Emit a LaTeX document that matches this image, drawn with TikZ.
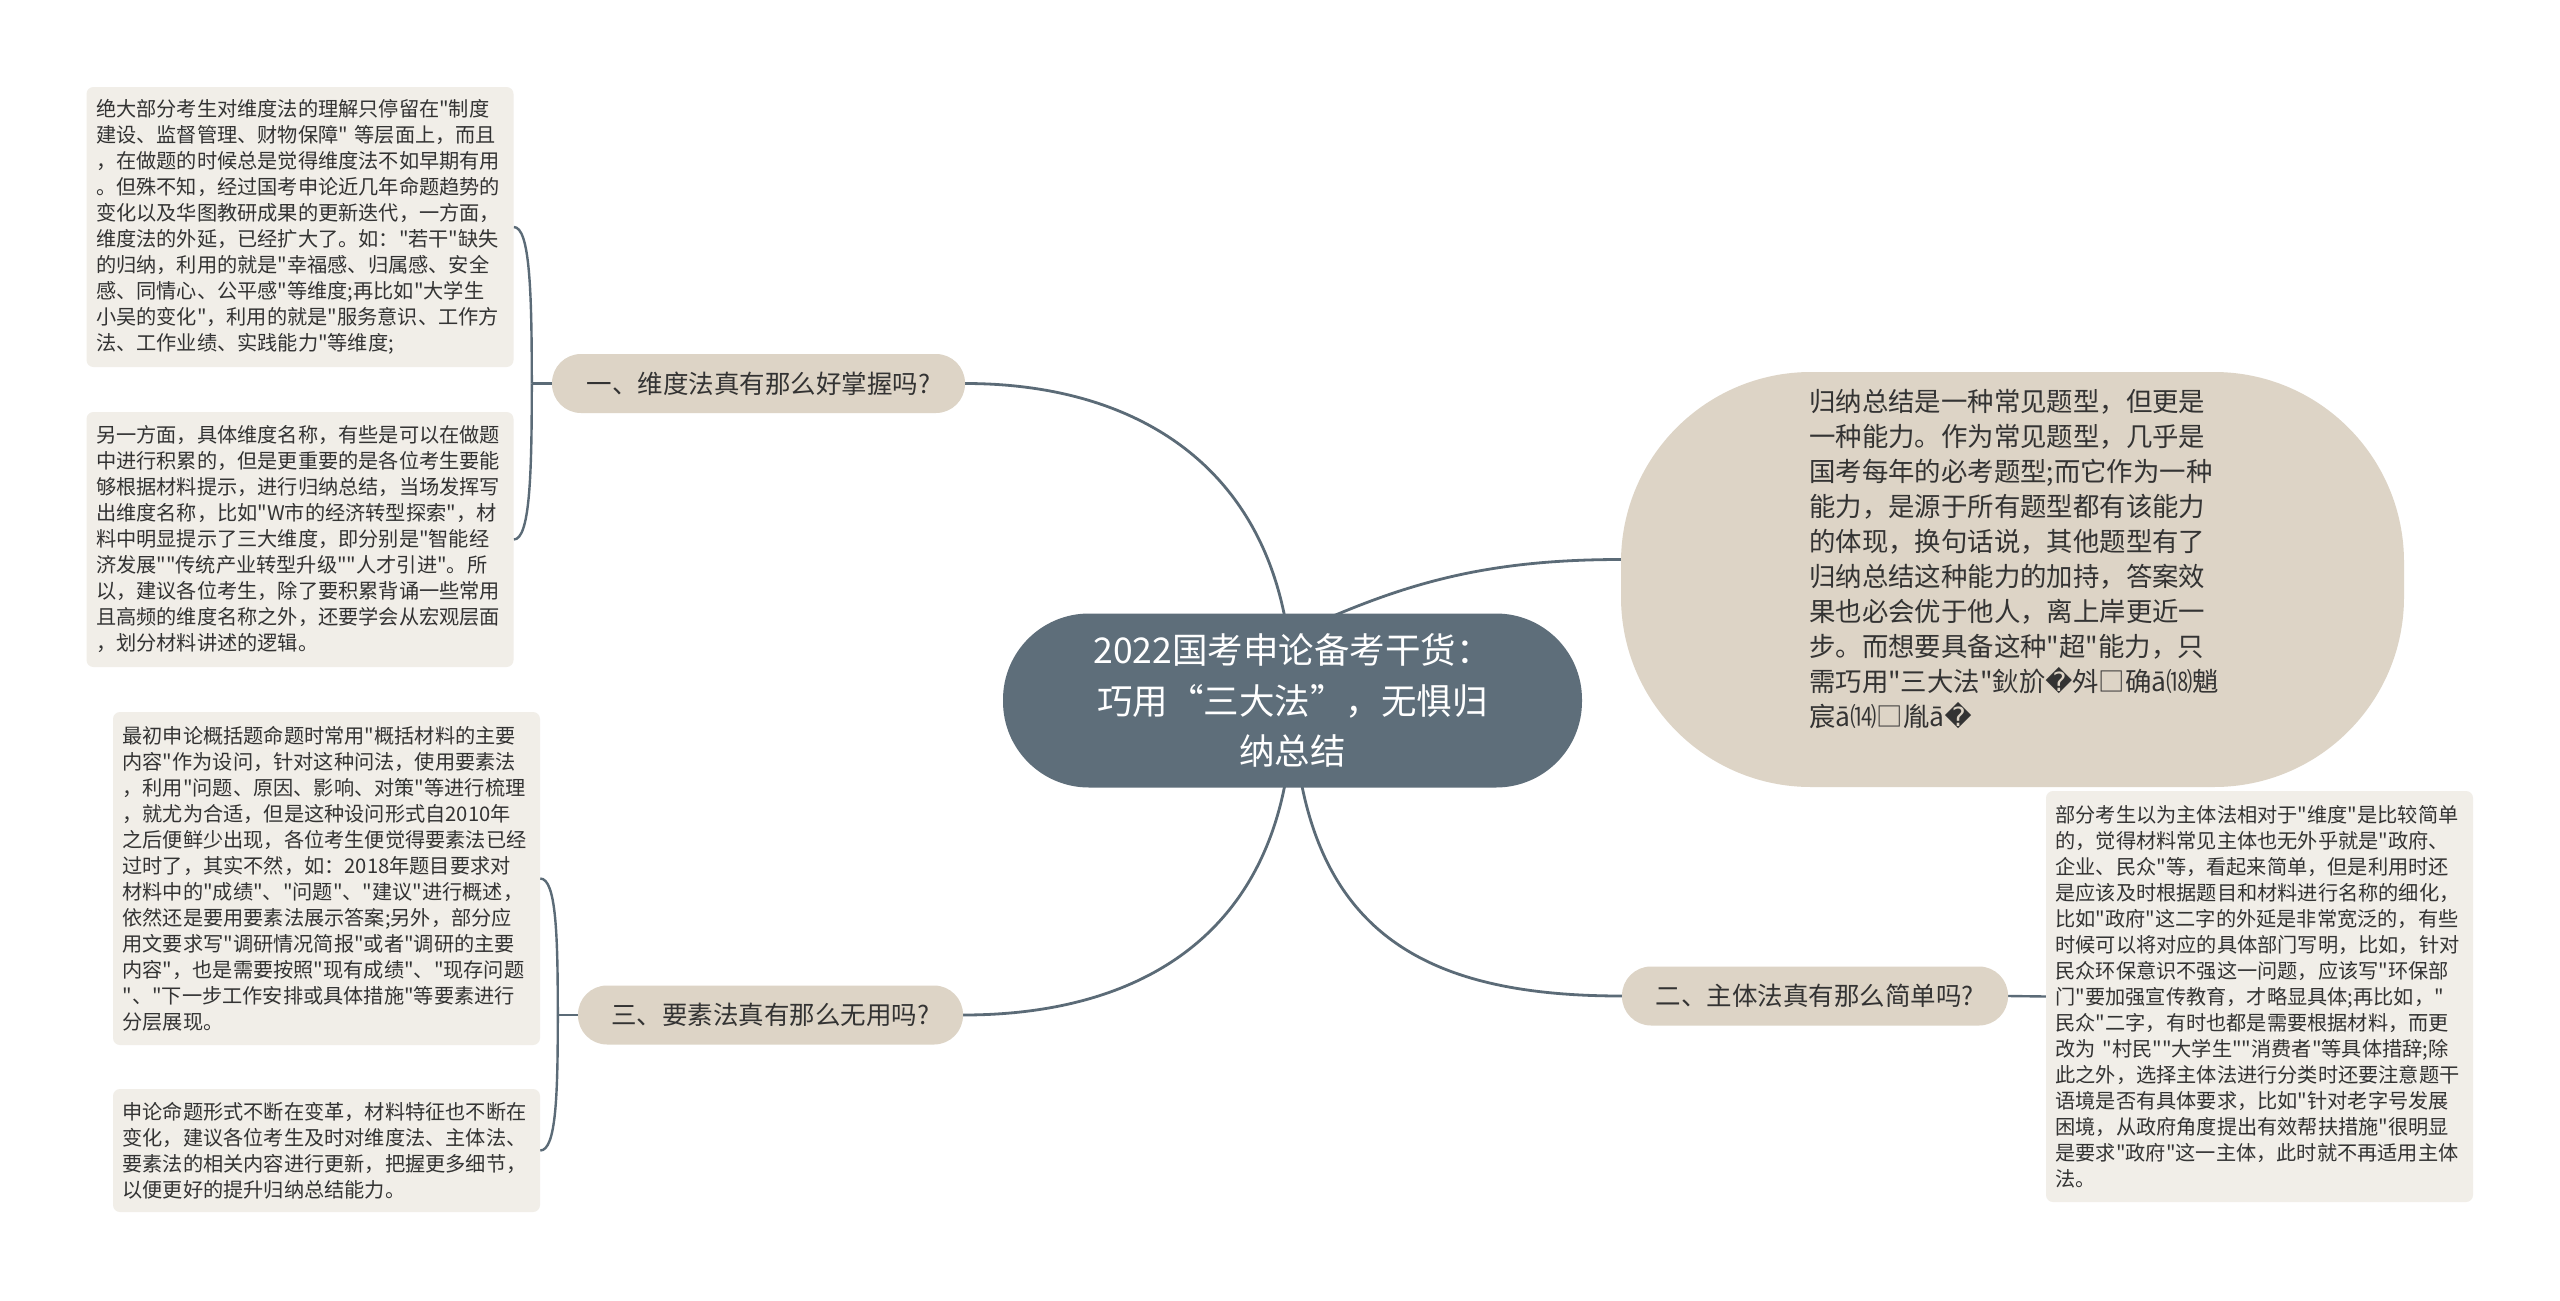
\documentclass[tikz,border=0pt]{standalone}
\usepackage{fontspec}
\setmainfont{Noto Sans CJK SC}[Ligatures=TeXOff]
\newfontfamily\dejavu{DejaVu Sans}[Ligatures=TeXOff]
\usetikzlibrary{backgrounds}
\definecolor{slate}{HTML}{5E6E7A}
\definecolor{linec}{HTML}{5B6B77}
\definecolor{beige}{HTML}{DDD4C6}
\definecolor{boxc}{HTML}{F1EEE8}
\definecolor{txt}{HTML}{333333}
\begin{document}
\begin{tikzpicture}[x=1pt,y=-1pt,
  rootnode/.style={fill=slate, rounded corners=86pt, minimum width=579pt, minimum height=174pt, text=white, align=center, font=\fontsize{35.5}{50.5}\selectfont, inner sep=0pt},
  branchnode/.style={fill=beige, rounded corners=29pt, minimum height=59pt, text=txt, font=\fontsize{25.5}{30}\selectfont, inner sep=0pt},
  textbox/.style={fill=boxc, rounded corners=7pt, text width=408pt, inner xsep=9.5pt, inner ysep=0pt, align=left, text=txt, font=\fontsize{20.2}{26}\selectfont},
  bubblenode/.style={fill=beige, rounded corners=190pt, minimum width=783pt, minimum height=415pt, inner sep=0pt},
  bubbletext/.style={text=txt, align=left, font=\fontsize{26.4}{35}\selectfont, inner sep=0pt, anchor=west},
  conn/.style={draw=linec, line width=2.8pt},
  brk/.style={draw=linec, line width=2.4pt},
]
\useasboundingbox (0,0) rectangle (2560,1301);

\node[rootnode] (root) at (1292.5,700.5) {2022国考申论备考干货：\\巧用“三大法”，无惧归\\纳总结};

\node[branchnode, minimum width=413pt] (b1) at (758.5,383.5) {一、维度法真有那么好掌握吗?};
\node[branchnode, minimum width=385pt] (b3) at (770.5,1015) {三、要素法真有那么无用吗?};
\node[branchnode, minimum width=386pt] (b2) at (1815,996) {二、主体法真有那么简单吗?};

\node[bubblenode] (bub) at (2012.5,579.5) {};
\node[bubbletext] (bubt) at (1809,559.5) {归纳总结是一种常见题型，但更是\\一种能力。作为常见题型，几乎是\\国考每年的必考题型;而它作为一种\\能力，是源于所有题型都有该能力\\的体现，换句话说，其他题型有了\\归纳总结这种能力的加持，答案效\\果也必会优于他人，离上岸更近一\\步。而想要具备这种"超"能力，只\\需巧用"三大法"鈥斺{\dejavu �}斘□确ā⒅魈\\宸ā⒁□胤ā{\dejavu �}};

\node[textbox, minimum height=280pt] (box1) at (300,227) {绝大部分考生对维度法的理解只停留在"制度\\建设、监督管理、财物保障" 等层面上，而且\\，在做题的时候总是觉得维度法不如早期有用\\。但殊不知，经过国考申论近几年命题趋势的\\变化以及华图教研成果的更新迭代，一方面，\\维度法的外延，已经扩大了。如："若干"缺失\\的归纳，利用的就是"幸福感、归属感、安全\\感、同情心、公平感"等维度;再比如"大学生\\小吴的变化"，利用的就是"服务意识、工作方\\法、工作业绩、实践能力"等维度;};

\node[textbox, minimum height=255pt] (box2) at (300,539.5) {另一方面，具体维度名称，有些是可以在做题\\中进行积累的，但是更重要的是各位考生要能\\够根据材料提示，进行归纳总结，当场发挥写\\出维度名称，比如"W市的经济转型探索"，材\\料中明显提示了三大维度，即分别是"智能经\\济发展""传统产业转型升级""人才引进"。所\\以，建议各位考生，除了要积累背诵一些常用\\且高频的维度名称之外，还要学会从宏观层面\\，划分材料讲述的逻辑。};

\node[textbox, minimum height=333pt] (box3) at (326.5,878.5) {最初申论概括题命题时常用"概括材料的主要\\内容"作为设问，针对这种问法，使用要素法\\，利用"问题、原因、影响、对策"等进行梳理\\，就尤为合适，但是这种设问形式自2010年\\之后便鲜少出现，各位考生便觉得要素法已经\\过时了，其实不然，如：2018年题目要求对\\材料中的"成绩"、"问题"、"建议"进行概述，\\依然还是要用要素法展示答案;另外，部分应\\用文要求写"调研情况简报"或者"调研的主要\\内容"，也是需要按照"现有成绩"、"现存问题\\"、"下一步工作安排或具体措施"等要素进行\\分层展现。};

\node[textbox, minimum height=123pt] (box4) at (326.5,1150.5) {申论命题形式不断在变革，材料特征也不断在\\变化，建议各位考生及时对维度法、主体法、\\要素法的相关内容进行更新，把握更多细节，\\以便更好的提升归纳总结能力。};

\node[textbox, minimum height=411pt] (box5) at (2259.5,996.5) {部分考生以为主体法相对于"维度"是比较简单\\的，觉得材料常见主体也无外乎就是"政府、\\企业、民众"等，看起来简单，但是利用时还\\是应该及时根据题目和材料进行名称的细化，\\比如"政府"这二字的外延是非常宽泛的，有些\\时候可以将对应的具体部门写明，比如，针对\\民众环保意识不强这一问题，应该写"环保部\\门"要加强宣传教育，才略显具体;再比如，"\\民众"二字，有时也都是需要根据材料，而更\\改为 "村民""大学生""消费者"等具体措辞;除\\此之外，选择主体法进行分类时还要注意题干\\语境是否有具体要求，比如"针对老字号发展\\困境，从政府角度提出有效帮扶措施"很明显\\是要求"政府"这一主体，此时就不再适用主体\\法。};

\begin{scope}[on background layer]
\fill[white] (0,0) rectangle (2560,1301);
\draw[conn] (root.center) .. controls +(0,-220) and +(185,0) .. (b1.east);
\draw[conn] (root.center) .. controls +(0,225) and +(187,0) .. (b3.east);
\draw[conn] ([xshift=7.5pt,yshift=70pt]root.center) .. controls +(100,-45) and +(-141,0) .. (bub.west |- bubt.west);
\draw[conn] (root.center) .. controls +(8,230) and +(-202,0) .. (b2.west);
\draw[brk] (b1.west) -- ++(-20,0) coordinate (j1);
\draw[brk] (j1) .. controls +(0,-94) and +(16,0) .. (box1.east);
\draw[brk] (j1) .. controls +(0,94) and +(16,0) .. (box2.east);
\draw[brk] (b3.west) -- ++(-20,0) coordinate (j3);
\draw[brk] (j3) .. controls +(0,-80) and +(16,0) .. (box3.east);
\draw[brk] (j3) .. controls +(0,80) and +(16,0) .. (box4.east);
\draw[brk] (b2.east) -- (box5.west);
\end{scope}
\end{tikzpicture}
\end{document}
